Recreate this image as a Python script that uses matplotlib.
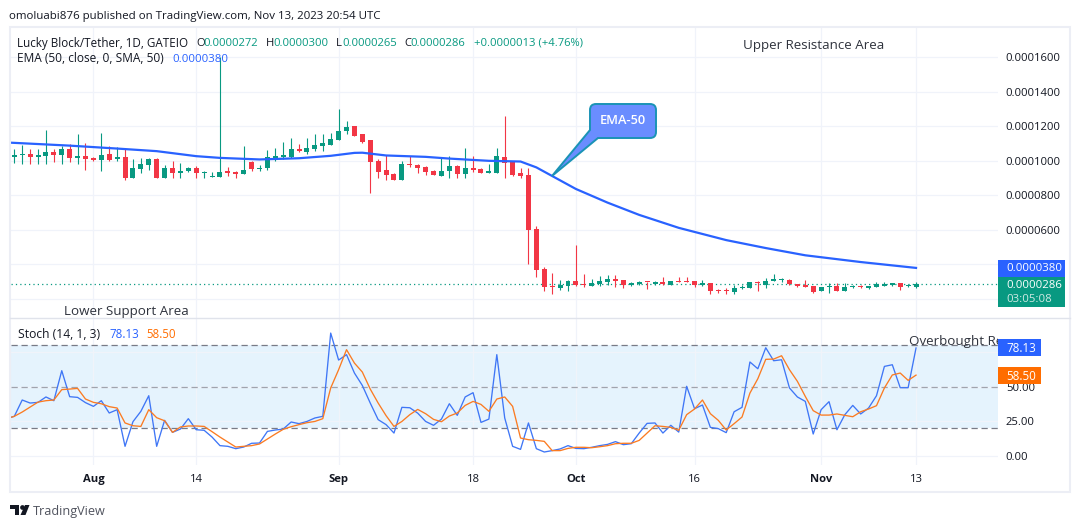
import matplotlib
matplotlib.use('Agg')
import matplotlib.pyplot as plt
from matplotlib.patches import Rectangle, Polygon, PathPatch
from matplotlib.path import Path
from matplotlib.transforms import IdentityTransform
import numpy as np

plt.rcParams['font.family'] = ['Open Sans', 'DejaVu Sans']

W, H = 1080, 528

# daily candles, price in units of 0.0000001, first candle is Jul 22
opens = [1021,1033,1038,1021,1027,1050,1033,1067,1015,1027,1015,1004,1038,1010,1021,900,952,975,1010,900,
         958,929,940,958,929,906,906,940,935,923,992,952,958,1015,1021,1021,1067,1050,1067,1085,
         1090,1119,1171,1200,1154,1119,998,946,923,888,981,975,963,940,912,940,969,923,958,952,
         929,929,1021,992,929,917,606,375,271,265,277,306,288,277,288,300,317,312,283,288,
         300,288,300,283,305,305,305,282,292,255,253,242,261,261,299,282,303,309,311,286,
         282,276,244,267,276,249,267,276,265,272,278,282,294,274,272]
highs = [1071,1090,1071,1071,1177,1071,1085,1096,1154,1102,1021,1160,1085,1079,1071,1010,1015,1015,1015,975,
         998,987,963,969,940,935,1600,963,940,1085,998,975,1062,1073,1108,1131,1096,1131,1154,1154,
         1160,1298,1229,1200,1154,1119,1010,1033,929,998,1027,981,969,946,1015,1027,975,1073,1027,958,
         981,1073,1258,998,958,958,623,387,352,312,312,513,346,317,335,340,340,312,300,306,
         300,306,329,306,328,328,305,311,292,259,265,282,282,299,305,323,346,323,317,286,
         311,276,271,294,294,294,282,282,276,299,299,294,294,288,300]
lows = [988,981,981,981,981,992,981,992,981,946,998,940,998,998,888,900,929,946,900,900,
        900,900,935,900,900,906,906,912,900,923,940,940,946,998,1010,1015,1050,1038,1056,1056,
        1090,1119,1154,1142,1102,813,900,888,888,888,963,929,917,917,912,900,900,900,935,929,
        929,929,900,912,900,404,329,248,231,254,248,277,271,277,277,283,271,265,277,283,
        260,283,283,283,301,298,271,278,230,236,230,230,259,261,249,265,303,299,282,272,
        267,236,244,236,247,247,265,265,259,267,276,276,253,272,265]
closes = [1033,1038,1021,1033,1050,1033,1067,1015,1027,1010,1004,1033,1004,1021,900,958,981,1010,900,958,
          929,940,958,929,935,908,935,929,923,946,952,958,1021,1027,1033,1067,1056,1073,1090,1102,
          1125,1171,1194,1142,1108,992,935,917,888,981,975,958,935,917,940,969,923,958,946,929,
          940,1027,987,917,912,600,369,271,267,283,306,283,283,294,306,317,306,283,294,300,
          296,300,285,306,301,301,282,292,247,249,247,265,263,298,292,305,313,313,284,278,
          271,242,271,276,249,271,276,267,276,284,288,292,271,276,286]

# EMA 50 read at a set of days
ema_days = [-1,0,7,13,18,23,26,31,36,40,43,44,47,52,55,60,64,66,68,71,75,79,84,90,95,100,107,114]
ema_vals = [1106,1104,1088,1071,1056,1027,1017,1008,1015,1029,1046,1047,1031,1023,1013,1000,996,962,912,
            837,758,687,612,541,495,453,414,380]

# stochastic, first value is one day before the first candle
stoch_k = [27,28.7,40.5,38.3,38.8,42.7,40,61.7,42.9,42.4,38.6,35.9,40,31.1,33.5,7,24.8,32.3,43.6,7,
           25.8,17.1,19.5,27,19,18.6,13.7,7.5,7,5.3,6.5,9.2,9.4,17.8,18.8,19.5,24.6,23.4,25,27.5,
           28.7,88.9,69.4,73.3,60,51,38.3,26.3,22.7,16.6,35.2,34.9,31,25,22.2,26.7,37.8,29.4,42.7,45.8,
           24.3,26.7,73.3,27.5,7,4.8,23.9,5.3,2.9,3.9,5.1,7.5,5.5,5.3,6.3,7.5,8.4,10.4,8.2,8.9,
           16.6,23.6,23.9,16.6,22.2,17.3,50.4,34.2,36.9,20.7,19.8,16.9,32,35.2,68,63.1,78.3,68.9,69.6,49.2,
           42.7,39.5,15.9,33.5,39.3,19,29.9,36.6,30.4,34.7,43.6,64.8,66,49.4,49.4,78.13]
stoch_d = [27,28.7,31.8,35.4,39,40,40.5,48,48.4,48.9,41.2,38.8,37.8,35.7,34.7,23.9,21.9,21.4,33.5,27.7,
           25.5,17.1,21,21.7,21.7,21.4,17.6,13.7,10.1,6.5,7,7.5,8.7,12.3,15.9,19.3,21.2,22.7,24.1,25,
           27,49.2,62.4,76.9,67.2,60.7,48.4,38.3,29.2,21.4,25,29.9,33.7,30.6,26.5,24.8,28.9,31.1,36.6,39.5,
           37.3,32.3,41.2,42.7,35.9,13,11.8,11.3,10.6,3.9,3.9,5.5,6.3,6.3,6,6.7,7.5,8.9,9.2,9.2,
           11.3,16.6,21.9,21.4,20.7,18.6,29.9,34,40.5,30.6,25.8,18.8,23.4,28.2,45.5,55.9,69.9,70.1,72.5,62.4,
           54,43.1,32.8,29.6,29.6,30.4,29.4,28.4,32,34,36.4,49.2,58.6,60,54.7,58.5]

# x axis ticks, as day number from the first candle
tick_days = [10,23,41,58,71,86,102,114]
tick_labels = ['Aug','14','Sep','18','Oct','16','Nov','13']
price_ticks = [200,400,600,800,1000,1200,1400,1600]
stoch_ticks = [0,25,50,75]

green = '#089981'
red = '#f23645'
blue = '#2962ff'
orange = '#ff6d00'
grid = '#f0f3fa'
ink = '#131722'

fig = plt.figure(figsize=(W/100, H/100), dpi=100, facecolor='white')

def box(x0, y0, x1, y1):
    return [x0/W, 1-y1/H, (x1-x0)/W, (y1-y0)/H]

def fx(x):
    return x/W

def fy(y):
    return 1-y/H

def label(x, y, s, color=ink, size=8.3, **kw):
    # open sans sits a bit high when centred
    fig.text(fx(x), fy(y+1), s, color=color, fontsize=size, zorder=8, va='center', **kw)

def tag(x0, y0, x1, y1, color):
    fig.add_artist(Rectangle((fx(x0), fy(y1)), (x1-x0)/W, (y1-y0)/H, transform=fig.transFigure,
                             facecolor=color, edgecolor='none', zorder=6))

ax = fig.add_axes(box(10.5, 28, 998, 318))
ax2 = fig.add_axes(box(10.5, 318, 998, 465))
xlim = [(10.5-14.3)/7.91, (998-14.3)/7.91]

# candles
days = np.arange(len(opens))
opens = np.array(opens)
highs = np.array(highs)
lows = np.array(lows)
closes = np.array(closes)
colors = [green if c >= o else red for o, c in zip(opens, closes)]
ax.vlines(days, lows, highs, colors=colors, linewidth=0.8, zorder=3)
ax.bar(days, np.maximum(np.abs(closes-opens), 6), bottom=np.minimum(opens, closes), width=0.63,
       color=colors, linewidth=0, zorder=4)

ax.plot(ema_days, ema_vals, color=blue, linewidth=1.6, zorder=5)
ax.axhline(closes[-1], color=green, linewidth=0.9, linestyle=(0, (1, 2.5)), zorder=2)

ax.set_xlim(xlim)
ax.set_ylim(90, 1769)
ax.set_yticks(price_ticks)
# 200 and 400 sit behind the last value tags
ax.set_yticklabels(['%.7f' % (v*1e-7) if v > 400 else '' for v in price_ticks])

# stochastic pane
ax2.axhspan(20, 80, color='#e5f3fd', linewidth=0, zorder=0)
for level, col in [(80, '#787b86'), (50, '#a0a3ad'), (20, '#787b86')]:
    ax2.axhline(level, color=col, linewidth=0.9, linestyle=(0, (5, 3)), zorder=2)
stoch_days = np.arange(-1, len(stoch_k)-1)
ax2.plot(stoch_days, stoch_k, color='#3f76f6', linewidth=0.95, zorder=4)
ax2.plot(stoch_days, stoch_d, color='#fb7b22', linewidth=0.95, zorder=5)
ax2.set_xlim(xlim)
ax2.set_ylim(-6.5, 99.8)
ax2.set_yticks(stoch_ticks)
ax2.set_yticklabels(['%.2f' % v if v != 75 else '' for v in stoch_ticks])
ax2.text(909, H-341, 'Overbought Re', transform=IdentityTransform(), color='#2f333d', fontsize=9.6,
         va='center', clip_on=True, zorder=6)

for a in (ax, ax2):
    a.set_xticks(tick_days)
    a.grid(True, color=grid, linewidth=0.9)
    a.set_axisbelow(True)
    a.yaxis.tick_right()
    a.tick_params(axis='both', length=0, labelsize=8.1, labelcolor=ink, pad=5.6)
    a.patch.set_alpha(0)
    for s in a.spines.values():
        s.set_visible(False)
ax.tick_params(axis='x', labelbottom=False)
ax2.set_xticklabels(tick_labels)
ax2.tick_params(axis='x', pad=6.8)
for t in ax2.get_xticklabels():
    if t.get_text() in ('Aug', 'Sep', 'Oct', 'Nov'):
        t.set_fontweight('bold')

# frame around the chart
fig.add_artist(Rectangle((fx(10), fy(492)), 1060/W, 465/H, transform=fig.transFigure,
                         facecolor='none', edgecolor='#eceef5', linewidth=1.5, zorder=1))
fig.add_artist(plt.Line2D([fx(10), fx(1070)], [fy(318), fy(318)], color='#e0e3eb', linewidth=1, zorder=1))

# titles
label(9, 15, 'omoluabi876 published on TradingView.com, Nov 13, 2023 20:54 UTC', size=8.25)
label(17, 42, 'Lucky Block/Tether, 1D, GATEIO', size=8.4)
for x, s, col in [(196, 'O', ink), (203, '0.0000272', green), (266, 'H', ink), (273, '0.0000300', green),
                  (336, 'L', ink), (342, '0.0000265', green), (404, 'C', ink), (410, '0.0000286', green),
                  (474, '+0.0000013 (+4.76%)', green)]:
    label(x, 42, s, color=col, size=8.1)
label(17, 58, 'EMA (50, close, 0, SMA, 50)', size=8.6)
label(172, 58, '0.0000380', color=blue, size=8.2)
label(17.5, 333, 'Stoch (14, 1, 3)', size=8.7)
label(109, 333, '78.13', color=blue, size=8.3)
label(146, 333, '58.50', color=orange, size=8.3)
label(743, 44, 'Upper Resistance Area', color='#2f333d', size=9.6)
label(64, 311, 'Lower Support Area', color='#2f333d', size=9.6)

# last value tags on the scales
tag(998, 259.5, 1065, 277, '#2962ff')
label(1006, 267.5, '0.0000380', color='white', size=8.2)
tag(998, 277, 1065, 306.5, green)
label(1006, 284.5, '0.0000286', color='white', size=8.2)
label(1006, 298, '03:05:08', color='#cfe9e3', size=8.2)
tag(998, 339, 1041, 355.5, '#2962ff')
label(1006, 347, '78.13', color='white', size=8.4)
tag(998, 367, 1041, 383.5, orange)
label(1006, 375, '58.50', color='white', size=8.4)

# EMA-50 callout
verts = [(596, 104), (650, 104), (656, 104), (656, 110), (656, 132), (656, 138), (650, 138), (598, 138),
         (552, 176), (590, 130), (590, 110), (590, 104), (596, 104), (596, 104)]
codes = [Path.MOVETO, Path.LINETO, Path.CURVE3, Path.CURVE3, Path.LINETO, Path.CURVE3, Path.CURVE3, Path.LINETO,
         Path.LINETO, Path.LINETO, Path.LINETO, Path.CURVE3, Path.CURVE3, Path.CLOSEPOLY]
callout = Path([(fx(x), fy(y)) for x, y in verts], codes)
fig.add_artist(PathPatch(callout, transform=fig.transFigure, facecolor='#6a8dff', edgecolor='#1a93b5',
                         linewidth=1.4, zorder=7))
label(623, 119, 'EMA-50', color='white', size=9.2, ha='center', fontweight='semibold')

# logo at the bottom
logo = '#131722'
for pts in ([(10, 505), (19, 505), (19, 515), (14.5, 515), (14.5, 509), (10, 509)],
            [(25, 505), (29.5, 505), (25.5, 515), (20.5, 515)]):
    fig.add_artist(Polygon([(fx(x), fy(y)) for x, y in pts], transform=fig.transFigure,
                           facecolor=logo, edgecolor='none', zorder=6))
dot = plt.Line2D([fx(21.6)], [fy(507)], marker='o', markersize=3.4, color=logo, markeredgewidth=0, zorder=6)
fig.add_artist(dot)
label(33, 510, 'TradingView', color='#50535e', size=9.1)

fig.savefig('out.png', dpi=100, facecolor='white')
